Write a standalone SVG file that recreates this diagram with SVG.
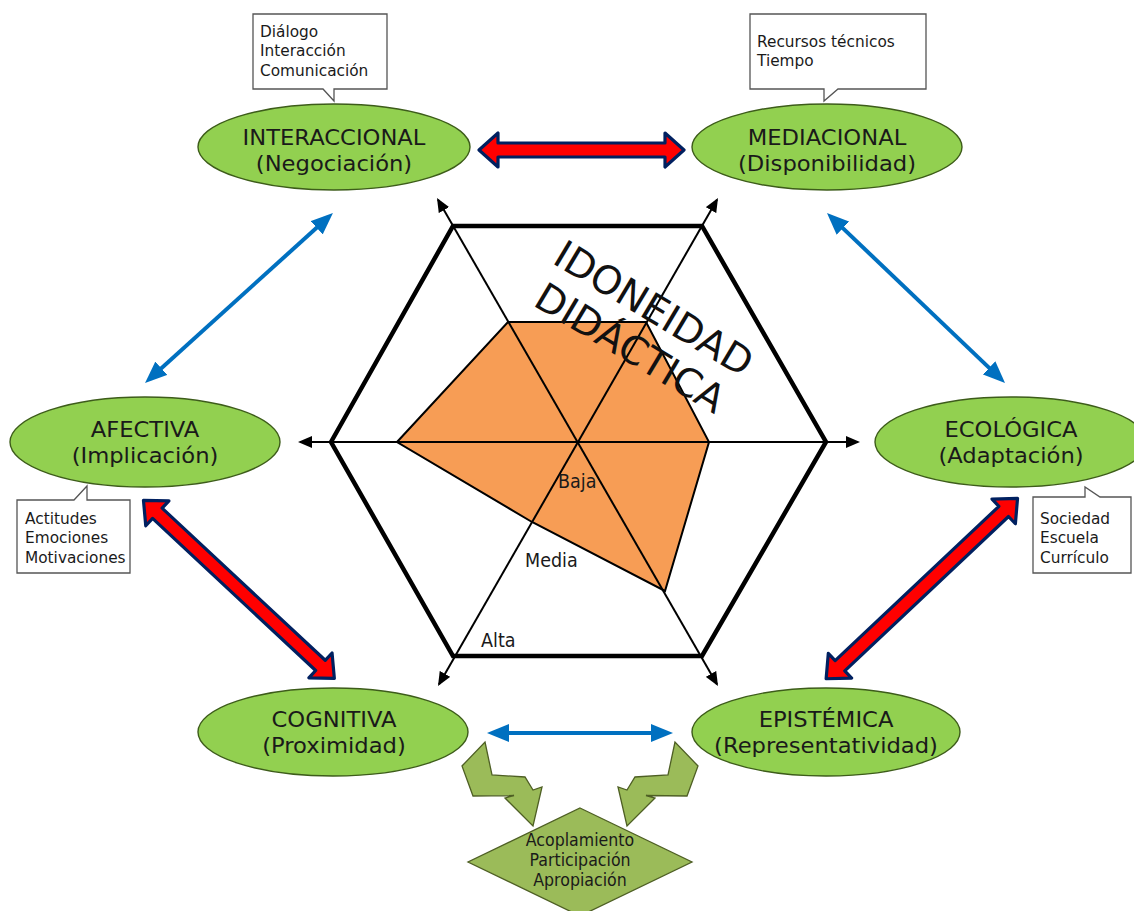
<svg xmlns="http://www.w3.org/2000/svg" xmlns:xlink="http://www.w3.org/1999/xlink" width="1134" height="911" viewBox="0 0 1134 911">
  <style>
    .ell { fill: #92D050; stroke: #3d5c1a; stroke-width: 1.4; }
    .lbl { font-family: "DejaVu Sans", Verdana, sans-serif; font-size: 22px; fill: #1a1a1a; text-anchor: middle; }
    .call { fill: #ffffff; stroke: #555555; stroke-width: 1.3; }
    .ct { font-family: "DejaVu Sans", Verdana, sans-serif; font-size: 16.5px; fill: #1a1a1a; }
    .lvl { font-family: "DejaVu Sans", Verdana, sans-serif; font-size: 19.5px; fill: #1a1a1a; }
    .title { font-family: "DejaVu Sans", Verdana, sans-serif; font-size: 39px; fill: #111111; text-anchor: middle; }
    .axis { stroke: #000; stroke-width: 2; fill: none; marker-start: url(#blackHead); marker-end: url(#blackHead); }
    .blue { stroke: #0070C0; stroke-width: 4; fill: none; marker-start: url(#blueHead); marker-end: url(#blueHead); }
    .red { fill: #FF0000; stroke: #002060; stroke-width: 3.2; stroke-linejoin: round; }
    .bolt { fill: #9BBB59; stroke: #4e5f24; stroke-width: 1.3; stroke-linejoin: miter; }
  </style>
  <defs>
    <marker id="blackHead" markerUnits="userSpaceOnUse" viewBox="0 0 14 12" markerWidth="14" markerHeight="12" refX="12" refY="6" orient="auto-start-reverse">
      <path d="M0,0 L14,6 L0,12 Z" fill="#000"/>
    </marker>
    <marker id="blueHead" markerUnits="userSpaceOnUse" viewBox="0 0 22 18" markerWidth="22" markerHeight="18" refX="16" refY="9" orient="auto-start-reverse">
      <path d="M0,0 L22,9 L0,18 Z" fill="#0070C0"/>
    </marker>
    <path id="bolt" class="bolt" d="M485,742 L492,775 L525,777 L533,790 L542,787 L533,826 L505,798 L514,795.5 L473,796 L462,766 Z"/>
  </defs>

  <rect width="1134" height="911" fill="#ffffff"/>

  <!-- radar chart: value polygon, axes, outer hexagon -->
  <g id="radar">
    <polygon points="397,442 508,322 646,322 709,442 665,591 532,522" fill="#F79D55" stroke="#000" stroke-width="2" stroke-linejoin="miter"/>
    <line class="axis" x1="300" y1="442" x2="858" y2="442"/>
    <line class="axis" x1="438" y1="199.7" x2="717" y2="684.3"/>
    <line class="axis" x1="717" y1="199.7" x2="439" y2="684.3"/>
    <polygon points="331,442 453,226 702,226 826,442 702,656 453,656" fill="none" stroke="#000" stroke-width="4.5" stroke-linejoin="miter"/>
    <text class="lvl" transform="translate(558,0) scale(0.9,1)" y="488">Baja</text>
    <text class="lvl" transform="translate(525,0) scale(0.9,1)" y="567">Media</text>
    <text class="lvl" transform="translate(481,0) scale(0.9,1)" y="647">Alta</text>
    <g transform="translate(550,262) rotate(31)">
      <text class="title" x="113" y="0">IDONEIDAD</text>
      <text class="title" x="113" y="46">DIDÁCTICA</text>
    </g>
  </g>

  <!-- connectors between the dimensions -->
  <g id="connectors">
    <path class="red" transform="translate(477,150)" d="M2,0 L21,-17 L21,-7 L188,-7 L188,-17 L207,0 L188,17 L188,7 L21,7 L21,17 Z"/>
    <path class="red" transform="translate(142,499) rotate(43)" d="M2,0 L21,-17 L21,-7 L244,-7 L244,-17 L263,0 L244,17 L244,7 L21,7 L21,17 Z"/>
    <path class="red" transform="translate(1019,497) rotate(136.7)" d="M2,0 L21,-17 L21,-7 L246,-7 L246,-17 L265,0 L246,17 L246,7 L21,7 L21,17 Z"/>
    <line class="blue" x1="149.5" y1="379" x2="328.5" y2="217"/>
    <line class="blue" x1="831.3" y1="217.1" x2="1000.7" y2="378.9"/>
    <line class="blue" x1="493" y1="733" x2="667" y2="733"/>
    <use xlink:href="#bolt" href="#bolt"/>
    <use xlink:href="#bolt" href="#bolt" transform="translate(1160,0) scale(-1,1)"/>
  </g>

  <g id="interaccional">
    <ellipse class="ell" cx="334" cy="147" rx="136" ry="43"/>
    <text class="lbl" transform="translate(334,0) scale(1.03,1)"><tspan x="0" y="145">INTERACCIONAL</tspan><tspan x="0" y="171">(Negociación)</tspan></text>
  </g>
  <g id="interaccional-note">
    <path class="call" d="M253,14 H387 V89 H334 V101 L323,89 H253 Z"/>
    <text class="ct" transform="translate(260,0) scale(0.93,1)"><tspan x="0" y="37">Diálogo</tspan><tspan x="0" y="56.5">Interacción</tspan><tspan x="0" y="76">Comunicación</tspan></text>
  </g>

  <g id="mediacional">
    <ellipse class="ell" cx="827" cy="147" rx="135" ry="43"/>
    <text class="lbl" transform="translate(827,0) scale(1.03,1)"><tspan x="0" y="145">MEDIACIONAL</tspan><tspan x="0" y="171">(Disponibilidad)</tspan></text>
  </g>
  <g id="mediacional-note">
    <path class="call" d="M750,14 H926 V89 H838 L824,101 V89 H750 Z"/>
    <text class="ct" transform="translate(757,0) scale(0.93,1)"><tspan x="0" y="47">Recursos técnicos</tspan><tspan x="0" y="66.5">Tiempo</tspan></text>
  </g>

  <g id="afectiva">
    <ellipse class="ell" cx="145" cy="442" rx="135" ry="45"/>
    <text class="lbl" transform="translate(145,0) scale(1.03,1)"><tspan x="0" y="437">AFECTIVA</tspan><tspan x="0" y="463">(Implicación)</tspan></text>
  </g>
  <g id="afectiva-note">
    <path class="call" d="M17,500 H74 L87,486 V500 H130 V573 H17 Z"/>
    <text class="ct" transform="translate(25,0) scale(0.93,1)"><tspan x="0" y="524">Actitudes</tspan><tspan x="0" y="543.5">Emociones</tspan><tspan x="0" y="563">Motivaciones</tspan></text>
  </g>

  <g id="ecologica">
    <ellipse class="ell" cx="1011" cy="442" rx="136" ry="45"/>
    <text class="lbl" transform="translate(1011,0) scale(1.03,1)"><tspan x="0" y="437">ECOLÓGICA</tspan><tspan x="0" y="463">(Adaptación)</tspan></text>
  </g>
  <g id="ecologica-note">
    <path class="call" d="M1033,497 H1085 V487 L1100,497 H1131 V573 H1033 Z"/>
    <text class="ct" transform="translate(1040,0) scale(0.93,1)"><tspan x="0" y="524">Sociedad</tspan><tspan x="0" y="543.5">Escuela</tspan><tspan x="0" y="563">Currículo</tspan></text>
  </g>

  <g id="cognitiva">
    <ellipse class="ell" cx="333" cy="732" rx="135" ry="44"/>
    <text class="lbl" transform="translate(334,0) scale(1.03,1)"><tspan x="0" y="727">COGNITIVA</tspan><tspan x="0" y="753">(Proximidad)</tspan></text>
  </g>

  <g id="epistemica">
    <ellipse class="ell" cx="826" cy="732" rx="134" ry="44"/>
    <text class="lbl" transform="translate(826,0) scale(1.03,1)"><tspan x="0" y="727">EPISTÉMICA</tspan><tspan x="0" y="753">(Representatividad)</tspan></text>
  </g>

  <g id="resultado">
    <polygon points="580,808 692,862 580,916 468,862" fill="#9BBB59" stroke="#4e5f24" stroke-width="1.3"/>
    <text class="ct" transform="translate(580,0) scale(0.93,1)" text-anchor="middle" style="font-size:17px"><tspan x="0" y="846">Acoplamiento</tspan><tspan x="0" y="866">Participación</tspan><tspan x="0" y="886">Apropiación</tspan></text>
  </g>
</svg>
